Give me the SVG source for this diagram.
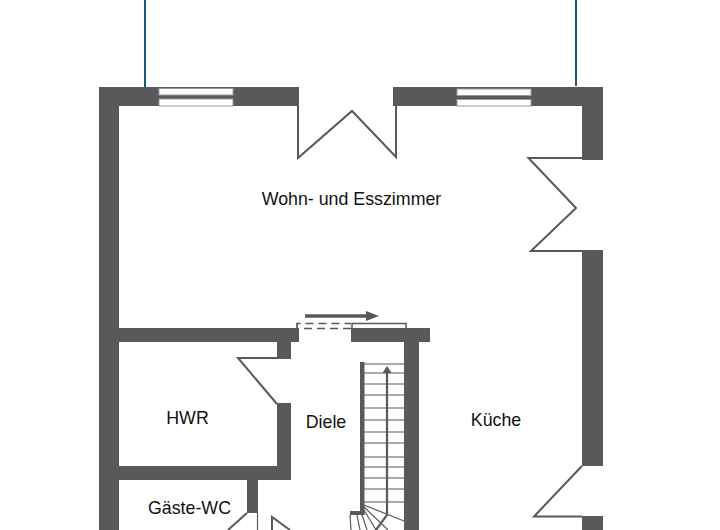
<svg xmlns="http://www.w3.org/2000/svg" width="720" height="530" viewBox="0 0 720 530">
<style>
.w{fill:#595959}
.l{fill:none;stroke:#595959;stroke-width:2;stroke-linejoin:miter}
.t{fill:none;stroke:#595959;stroke-width:1.200}
.g{fill:#fff;stroke:#999;stroke-width:1}
.c{fill:none;stroke:#1a5a78;stroke-width:2}
text{font-family:"Liberation Sans","Noto Sans",sans-serif;font-size:17.800px;fill:#111;text-anchor:middle}
</style>
<rect width="720" height="530" fill="#fff"/>
<g id="walls">
<rect class="w" x="99" y="87" width="200" height="19"/>
<rect class="w" x="393" y="87" width="210" height="19"/>
<rect class="w" x="99" y="87" width="20" height="443"/>
<rect class="w" x="582" y="87" width="21" height="73"/>
<rect class="w" x="582" y="250" width="21" height="216"/>
<rect class="w" x="582" y="516" width="21" height="14"/>
<rect class="w" x="119" y="328" width="180" height="14"/>
<rect class="w" x="351" y="328" width="79" height="14"/>
<rect class="w" x="277" y="342" width="14" height="17"/>
<rect class="w" x="277" y="403" width="14" height="76"/>
<rect class="w" x="119" y="466" width="172" height="14"/>
<rect class="w" x="247" y="480" width="11" height="33"/>
<rect class="w" x="404" y="342" width="15" height="188"/>
<rect class="w" x="360" y="362" width="4.500" height="153"/>
<rect class="w" x="350" y="511" width="14.500" height="4"/>
</g>
<g id="windows">
<rect class="g" x="159" y="88.500" width="74" height="6.500"/>
<rect class="g" x="159" y="99" width="74" height="7"/>
<rect class="g" x="457" y="89" width="74" height="6.500"/>
<rect class="g" x="457" y="99.500" width="74" height="6.500"/>
</g>
<g id="connectors">
<path class="c" d="M145 0V87"/>
<path class="c" d="M576 0V86"/>
</g>
<g id="doors">
<path class="l" d="M298 106V158L352 111L396 157V106"/>
<path class="l" d="M582 158H528.500L576 208L531 251H582"/>
<path class="l" d="M582 466L534 516.500H582"/>
<path class="l" d="M291 358H238L277 404"/>
<path class="l" d="M247 513L228 530"/>
<path class="t" d="M257.500 513V530"/>
<path class="l" d="M272 530V517L290 530"/>
</g>
<g id="sliding-door">
<path d="M305 316H367" stroke="#595959" stroke-width="3.500" fill="none"/>
<path class="w" d="M366 311L379 316L366 321Z"/>
<path class="t" stroke-dasharray="8 5" d="M297 328V323.500H351" style="stroke-width:1.700"/>
<path class="t" stroke-dasharray="8 5" d="M304 328.500H351" style="stroke-width:1.700"/>
<path class="t" d="M352 328V323.500H406V328" style="stroke-width:1.500"/>
</g>
<g id="stairs">
<path class="t" d="M364 364H404M364 373H404M364 384H404M364 395H404M364 408H404M364 420H404M364 432H404M364 443H404M364 457H404M364 467H404M364 478H404M364 489H404M364 502H404M364 505L404 521M364 507L388 530M364 510L376 530M361 512L367 530M357 515L360 530M350 515L351 530"/>
<path class="t" style="stroke-width:2.200" d="M387 372V515L376 530"/>
<path class="w" d="M387 366L391.500 373H382.500Z"/>
</g>
<g id="labels">
<text x="351.500" y="205">Wohn- und Esszimmer</text>
<text x="187.500" y="424">HWR</text>
<text x="326" y="428">Diele</text>
<text x="496" y="426">Küche</text>
<text x="189.500" y="514">Gäste-WC</text>
</g>
</svg>
